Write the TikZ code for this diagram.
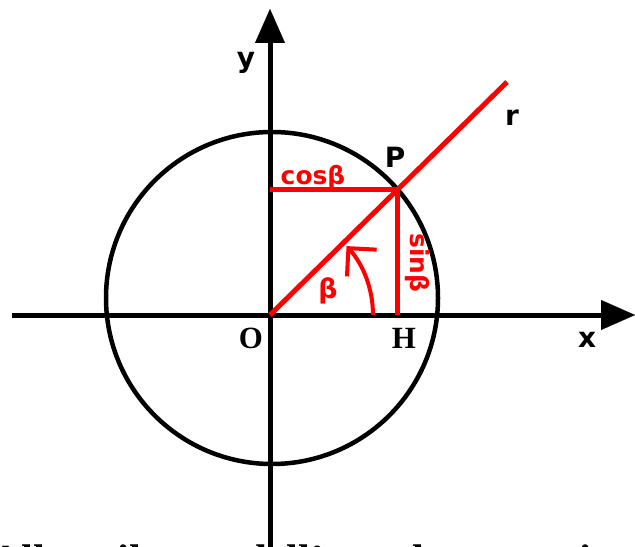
\documentclass[tikz,border=0pt]{standalone}
\usepackage{fontspec}
\setmainfont{Liberation Serif}
\newfontfamily\labfont{DejaVu Sans}
\usetikzlibrary{arrows.meta}
\begin{document}
\begin{tikzpicture}[x=1bp,y=-1bp,
  axis/.style={line width=5bp, black, -{Triangle[length=34bp,width=30bp,line width=0.1bp]}},
  circ/.style={line width=4.5bp, black},
  redline/.style={line width=5bp, red},
  anglearrow/.style={line width=4bp, red, -{Straight Barb[length=20bp,width=40bp]}},
  blab/.style={font=\labfont\bfseries\fontsize{28}{28}\selectfont, inner sep=0pt, text=black},
  rlab/.style={font=\labfont\bfseries\fontsize{25}{25}\selectfont, inner sep=0pt, text=red},
  tlab/.style={font=\bfseries\fontsize{31}{31}\selectfont, inner sep=0pt, text=black},
  bottomtext/.style={font=\bfseries\fontsize{43}{43}\selectfont, inner sep=0pt, anchor=base west}]
\useasboundingbox (0,0) rectangle (635,547);
\clip (0,0) rectangle (635,547);
\fill[white] (0,0) rectangle (635,547);

\coordinate (O) at (270,315);
\coordinate (P) at (397,190);
\coordinate (H) at (397,315);
\coordinate (Ycos) at (270,190);
\coordinate (R) at (507,82);
\coordinate (C) at (272,298);
\coordinate (Xstart) at (12,315);
\coordinate (Xend) at (635,315);
\coordinate (Ystart) at (270,547);
\coordinate (Yend) at (270,9);

% bottom text (cut by the picture edge, as in the reference)
\node[bottomtext] (txt) at (-10,574) {Allora il seno dell'angolo come si vede};

% circle
\draw[circ] (C) circle[radius=166];

% axes
\draw[axis] (Xstart) -- (Xend);
\draw[axis] (Ystart) -- (Yend);

% red construction
\draw[redline] (O) -- (R);
\draw[redline] (Ycos) -- (P) -- (H);
\draw[anglearrow] (O) ++(0:103) arc[start angle=0, end angle=-42, radius=103];

% labels
\node[rlab] (cos) at (313,177) {cosβ};
\node[rlab, rotate=-90] (sin) at (418,263) {sinβ};
\node[rlab, font=\labfont\bfseries\fontsize{27}{27}\selectfont] (beta) at (328,291) {β};
\node[blab] (Plab) at (395,157) {P};
\node[blab] (rlab) at (512,118) {r};
\node[blab] (ylab) at (246,63) {y};
\node[blab] (xlab) at (587,340) {x};
\node[tlab] (Olab) at (251,338) {O};
\node[tlab] (Hlab) at (404,338) {H};
\end{tikzpicture}
\end{document}
